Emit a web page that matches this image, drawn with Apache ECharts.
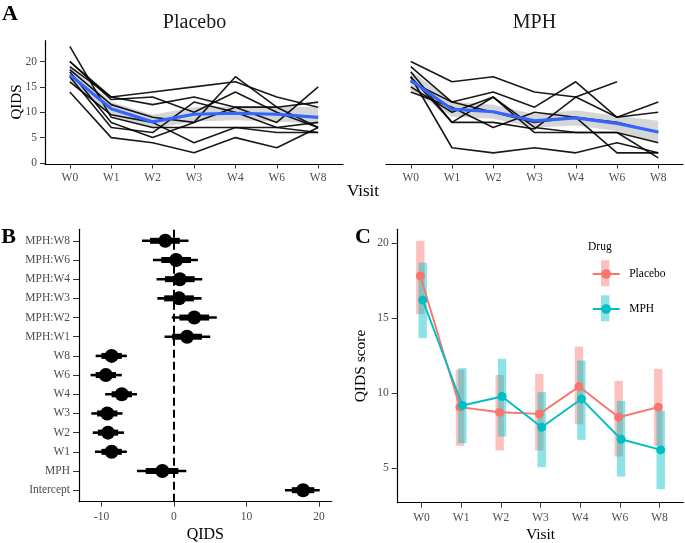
<!DOCTYPE html>
<html><head><meta charset="utf-8">
<script src="https://cdn.jsdelivr.net/npm/echarts@6/dist/echarts.min.js"></script>
<style>html,body{margin:0;padding:0;background:#fff}#c{width:685px;height:543px}</style>
</head><body><div id="c"></div>
<script>
// ---------- DATA ----------
const visits = ['W0','W1','W2','W3','W4','W6','W8'];
// Panel A: individual trajectories
const placeboSubjects = [
  [23, 9, 7, 7, 7, 7, 8],
  [20, 13, 14, 15, 16, 13, 11],
  [20, 12.5, 13, 10, 14, 10, 7],
  [19, 13, 11.5, 13, 11, 8, 15],
  [18.4, 11.5, 9, 8, 17, 11, 7],
  [18, 8, 5, 8, 11, 11, 12],
  [17, 7, 6, 12, 10, 7, 6],
  [16, 9.5, 8, 4, 7, 6, 6],
  [14, 5, 4, 2, 5, 3, 7]
];
const mphSubjects = [
  [20, 16, 17, 14, 13, 9, 10],
  [18, 8, 8, 6.7, 13, 16, null],
  [17, 3, 2, 3, 2, 4, 2],
  [19, 12, 14, 11, 16, 9, 12],
  [16, 12, 10, 8, 9, 8, 6],
  [17, 8, 13, 6, 6, 6, 1],
  [14, 11, 7, 10, 9, 2, 2],
  [15, 10, 13, 7, 6, 6, 4]
];
const placeboSmooth = [17.4, 10.7, 8.1, 9.6, 9.8, 9.6, 9.0];
const placeboSmoothLo = [15.8, 9.3, 6.8, 8.2, 8.4, 8.2, 7.7];
const placeboSmoothHi = [19.0, 12.0, 9.5, 11.0, 11.2, 11.1, 11.1];
const mphSmooth = [16.3, 10.6, 10.1, 8.3, 8.9, 7.8, 6.1];
const mphSmoothLo = [14.4, 9.1, 8.7, 7.0, 7.4, 6.3, 3.9];
const mphSmoothHi = [18.2, 12.1, 11.5, 9.6, 10.4, 9.3, 8.3];
const qidsTicks = [0, 5, 10, 15, 20];

// Panel B: coefficients (bottom to top)
const terms = ['Intercept','MPH','W1','W2','W3','W4','W6','W8','MPH:W1','MPH:W2','MPH:W3','MPH:W4','MPH:W6','MPH:W8'];
const estimate = [17.8, -1.6, -8.6, -9.1, -9.2, -7.2, -9.4, -8.6, 1.8, 2.8, 0.7, 0.8, 0.3, -1.2];
const outerLo = [15.3, -5.1, -10.9, -11.2, -11.4, -9.5, -11.5, -10.8, -1.3, -0.3, -2.3, -2.4, -2.9, -4.4];
const outerHi = [20.1, 1.7, -6.5, -6.9, -7.1, -5.1, -7.2, -6.5, 5.0, 5.9, 3.8, 3.9, 3.3, 2.0];
const innerLo = [16.25, -3.9, -10.0, -10.5, -10.6, -8.6, -10.8, -10.0, -0.25, 0.75, -1.35, -1.25, -1.75, -3.3];
const innerHi = [19.35, 0.6, -7.2, -7.7, -7.8, -5.8, -8.0, -7.2, 3.85, 4.85, 2.75, 2.85, 2.35, 0.8];
const coefTicks = [-10, 0, 10, 20];

// Panel C: group means with intervals
const placeboMean = [17.82, 9.07, 8.73, 8.62, 10.44, 8.40, 9.07];
const placeboLo = [15.27, 6.49, 6.18, 6.18, 7.93, 5.78, 6.49];
const placeboHi = [20.16, 11.56, 11.22, 11.29, 13.11, 10.82, 11.62];
const mphMean = [16.22, 9.18, 9.78, 7.73, 9.62, 6.93, 6.22];
const mphLo = [13.67, 6.67, 7.11, 5.07, 6.89, 4.44, 3.60];
const mphHi = [18.71, 11.67, 12.29, 10.07, 12.18, 9.49, 8.84];
const scoreTicks = [5, 10, 15, 20];

// ---------- STYLE ----------
const serif = '"Liberation Serif", "DejaVu Serif", serif';
const PLC = '#F8766D', MPHC = '#00BFC4';
const idx = visits.map((_, i) => i);
const lineStyleAxis = {show: true, onZero: false, lineStyle: {color: '#000', width: 1.2}};
const labelBase = {fontFamily: serif, fontSize: 11.5, color: '#4d4d4d'};

function valAxis(o) {
  return Object.assign({
    type: 'value', splitLine: {show: false}, axisLine: lineStyleAxis
  }, o);
}
function visitX(grid, extra) {
  return valAxis(Object.assign({
    gridIndex: grid, min: -0.6, max: 6.6,
    axisTick: {show: true, customValues: idx, length: 4.5, lineStyle: {color: '#333'}},
    axisLabel: Object.assign({customValues: idx, formatter: v => visits[Math.round(v)], margin: 8}, labelBase)
  }, extra || {}));
}

function bandPolygon(lo, hi) {
  return function (params, api) {
    if (params.dataIndex !== 0) return null;
    const pts = [];
    for (let i = 0; i < hi.length; i++) pts.push(api.coord([i, hi[i]]));
    for (let i = lo.length - 1; i >= 0; i--) pts.push(api.coord([i, lo[i]]));
    return {type: 'polygon', shape: {points: pts}, style: {fill: 'rgba(153,153,153,0.4)'}};
  };
}
function rangeRect(color) {
  return function (params, api) {
    const x = api.value(0);
    const a = api.coord([x, api.value(2)]);
    const b = api.coord([x, api.value(1)]);
    return {type: 'rect', shape: {x: a[0] - 4.2, y: a[1], width: 8.4, height: b[1] - a[1]}, style: {fill: color}};
  };
}
function coefItem(params, api) {
  const y = api.value(1);
  const p = api.coord([api.value(0), y]);
  const a = api.coord([api.value(2), y]);
  const b = api.coord([api.value(3), y]);
  const c = api.coord([api.value(4), y]);
  const d = api.coord([api.value(5), y]);
  return {type: 'group', children: [
    {type: 'line', shape: {x1: a[0], y1: a[1], x2: b[0], y2: b[1]}, style: {stroke: '#000', lineWidth: 2.6}},
    {type: 'line', shape: {x1: c[0], y1: c[1], x2: d[0], y2: d[1]}, style: {stroke: '#000', lineWidth: 6}},
    {type: 'circle', shape: {cx: p[0], cy: p[1], r: 7}, style: {fill: '#000'}}
  ]};
}

const series = [];
placeboSubjects.forEach((s, k) => series.push({
  type: 'line', name: 'placebo-subject-' + k, xAxisIndex: 0, yAxisIndex: 0,
  data: s.map((v, i) => v == null ? null : [i, v]).filter(Boolean),
  symbol: 'none', silent: true, lineStyle: {color: 'rgba(0,0,0,0.9)', width: 1.6}
}));
series.push({type: 'custom', xAxisIndex: 0, yAxisIndex: 0, silent: true,
  data: idx.map(i => [i, placeboSmoothLo[i], placeboSmoothHi[i]]), renderItem: bandPolygon(placeboSmoothLo, placeboSmoothHi)});
series.push({type: 'line', name: 'placebo-smooth', xAxisIndex: 0, yAxisIndex: 0, symbol: 'none', silent: true,
  data: placeboSmooth.map((v, i) => [i, v]), lineStyle: {color: '#3366FF', width: 3.2}});

mphSubjects.forEach((s, k) => series.push({
  type: 'line', name: 'mph-subject-' + k, xAxisIndex: 1, yAxisIndex: 1,
  data: s.map((v, i) => v == null ? null : [i, v]).filter(Boolean),
  symbol: 'none', silent: true, lineStyle: {color: 'rgba(0,0,0,0.9)', width: 1.6}
}));
series.push({type: 'custom', xAxisIndex: 1, yAxisIndex: 1, silent: true,
  data: idx.map(i => [i, mphSmoothLo[i], mphSmoothHi[i]]), renderItem: bandPolygon(mphSmoothLo, mphSmoothHi)});
series.push({type: 'line', name: 'mph-smooth', xAxisIndex: 1, yAxisIndex: 1, symbol: 'none', silent: true,
  data: mphSmooth.map((v, i) => [i, v]), lineStyle: {color: '#3366FF', width: 3.2}});

// Panel B
series.push({type: 'custom', xAxisIndex: 2, yAxisIndex: 2, silent: true,
  encode: {x: [0, 2, 3], y: 1},
  data: terms.map((t, i) => [estimate[i], i, outerLo[i], outerHi[i], innerLo[i], innerHi[i]]),
  renderItem: coefItem,
  markLine: {silent: true, symbol: 'none', label: {show: false},
    lineStyle: {color: '#000', type: [8, 4], width: 2}, data: [{xAxis: 0}]}
});

// Panel C
const dodge = 0.03;
series.push({type: 'line', name: 'Placebo', xAxisIndex: 3, yAxisIndex: 3,
  data: placeboMean.map((v, i) => [i - dodge, v]), symbol: 'circle', symbolSize: 9,
  itemStyle: {color: PLC}, lineStyle: {color: PLC, width: 1.9}});
series.push({type: 'line', name: 'MPH', xAxisIndex: 3, yAxisIndex: 3,
  data: mphMean.map((v, i) => [i + dodge, v]), symbol: 'circle', symbolSize: 9,
  itemStyle: {color: MPHC}, lineStyle: {color: MPHC, width: 1.9}});
series.push({type: 'custom', xAxisIndex: 3, yAxisIndex: 3, silent: true, encode: {x: 0, y: [1, 2]},
  data: idx.map(i => [i - dodge, placeboLo[i], placeboHi[i]]), renderItem: rangeRect('rgba(248,118,109,0.45)')});
series.push({type: 'custom', xAxisIndex: 3, yAxisIndex: 3, silent: true, encode: {x: 0, y: [1, 2]},
  data: idx.map(i => [i + dodge, mphLo[i], mphHi[i]]), renderItem: rangeRect('rgba(0,191,196,0.45)')});

const gridBase = {outerBoundsMode: 'none', containLabel: false};
const option = {
  animation: false,
  backgroundColor: '#fff',
  grid: [
    Object.assign({left: 45, top: 40.7, width: 298, height: 123.3}, gridBase),
    Object.assign({left: 386, top: 40.7, width: 297, height: 123.3}, gridBase),
    Object.assign({left: 79, top: 229.3, width: 252.7, height: 272.4}, gridBase),
    Object.assign({left: 397.7, top: 229.3, width: 285.6, height: 273.4}, gridBase)
  ],
  xAxis: [
    visitX(0),
    visitX(1),
    valAxis({gridIndex: 2, min: -13.1, max: 21.75,
      axisTick: {show: true, customValues: coefTicks, length: 5, lineStyle: {color: '#333'}},
      axisLabel: Object.assign({customValues: coefTicks, margin: 9}, labelBase),
      name: 'QIDS', nameLocation: 'middle', nameGap: 25, nameMoveOverlap: false,
      nameTextStyle: {fontFamily: serif, fontSize: 16, color: '#000'}}),
    visitX(3, {name: 'Visit', nameLocation: 'middle', nameGap: 24, nameMoveOverlap: false,
      nameTextStyle: {fontFamily: serif, fontSize: 15.5, color: '#000'},
      axisTick: {show: true, customValues: idx, length: 5, lineStyle: {color: '#333'}},
      axisLabel: Object.assign({customValues: idx, formatter: v => visits[Math.round(v)], margin: 9}, labelBase)})
  ],
  yAxis: [
    valAxis({gridIndex: 0, min: -0.2, max: 24.1,
      axisTick: {show: true, customValues: qidsTicks, length: 5, lineStyle: {color: '#333'}},
      axisLabel: Object.assign({customValues: qidsTicks, margin: 8}, labelBase)}),
    valAxis({gridIndex: 1, min: -0.2, max: 24.1, show: false}),
    valAxis({gridIndex: 2, min: -0.6, max: 13.6,
      axisTick: {show: true, customValues: terms.map((_, i) => i), length: 6, lineStyle: {color: '#333'}},
      axisLabel: Object.assign({customValues: terms.map((_, i) => i), formatter: v => terms[Math.round(v)], margin: 9}, labelBase)}),
    valAxis({gridIndex: 3, min: 2.7, max: 20.93,
      axisTick: {show: true, customValues: scoreTicks, length: 6, lineStyle: {color: '#333'}},
      axisLabel: Object.assign({customValues: scoreTicks, margin: 9}, labelBase),
      name: 'QIDS score', nameLocation: 'middle', nameGap: 29,
      nameTextStyle: {fontFamily: serif, fontSize: 15.5, color: '#000'}})
  ],
  legend: {
    data: ['Placebo', 'MPH'], orient: 'vertical', left: 591.7, top: 268, padding: 0,
    itemWidth: 27, itemHeight: 12, itemGap: 23, selectedMode: false,
    textStyle: {fontFamily: serif, fontSize: 11.5, color: '#000', padding: [0, 0, 0, 4.5]}
  },
  graphic: [
    {type: 'text', x: 10, y: 14.5, style: {text: 'A', font: 'bold 22px ' + serif, fill: '#000', align: 'center', verticalAlign: 'middle'}},
    {type: 'text', x: 8.5, y: 237.5, style: {text: 'B', font: 'bold 22px ' + serif, fill: '#000', align: 'center', verticalAlign: 'middle'}},
    {type: 'text', x: 363, y: 237.5, style: {text: 'C', font: 'bold 22px ' + serif, fill: '#000', align: 'center', verticalAlign: 'middle'}},
    {type: 'text', x: 194.5, y: 23, style: {text: 'Placebo', font: '20px ' + serif, fill: '#1a1a1a', align: 'center', verticalAlign: 'middle'}},
    {type: 'text', x: 534.5, y: 23, style: {text: 'MPH', font: '20px ' + serif, fill: '#1a1a1a', align: 'center', verticalAlign: 'middle'}},
    {type: 'text', x: 17, y: 102, rotation: Math.PI / 2, style: {text: 'QIDS', font: '15px ' + serif, fill: '#000', align: 'center', verticalAlign: 'middle'}},
    {type: 'text', x: 363, y: 192, style: {text: 'Visit', font: '17px ' + serif, fill: '#000', align: 'center', verticalAlign: 'middle'}},
    {type: 'text', x: 588, y: 247, style: {text: 'Drug', font: '11.5px ' + serif, fill: '#000', align: 'left', verticalAlign: 'middle'}},
    {type: 'rect', shape: {x: 601, y: 260.3, width: 8.4, height: 26}, style: {fill: 'rgba(248,118,109,0.45)'}},
    {type: 'rect', shape: {x: 601, y: 295.3, width: 8.4, height: 26}, style: {fill: 'rgba(0,191,196,0.45)'}}
  ],
  series: series
};
const chart = echarts.init(document.getElementById('c'));
chart.setOption(option);
</script>
</body></html>
